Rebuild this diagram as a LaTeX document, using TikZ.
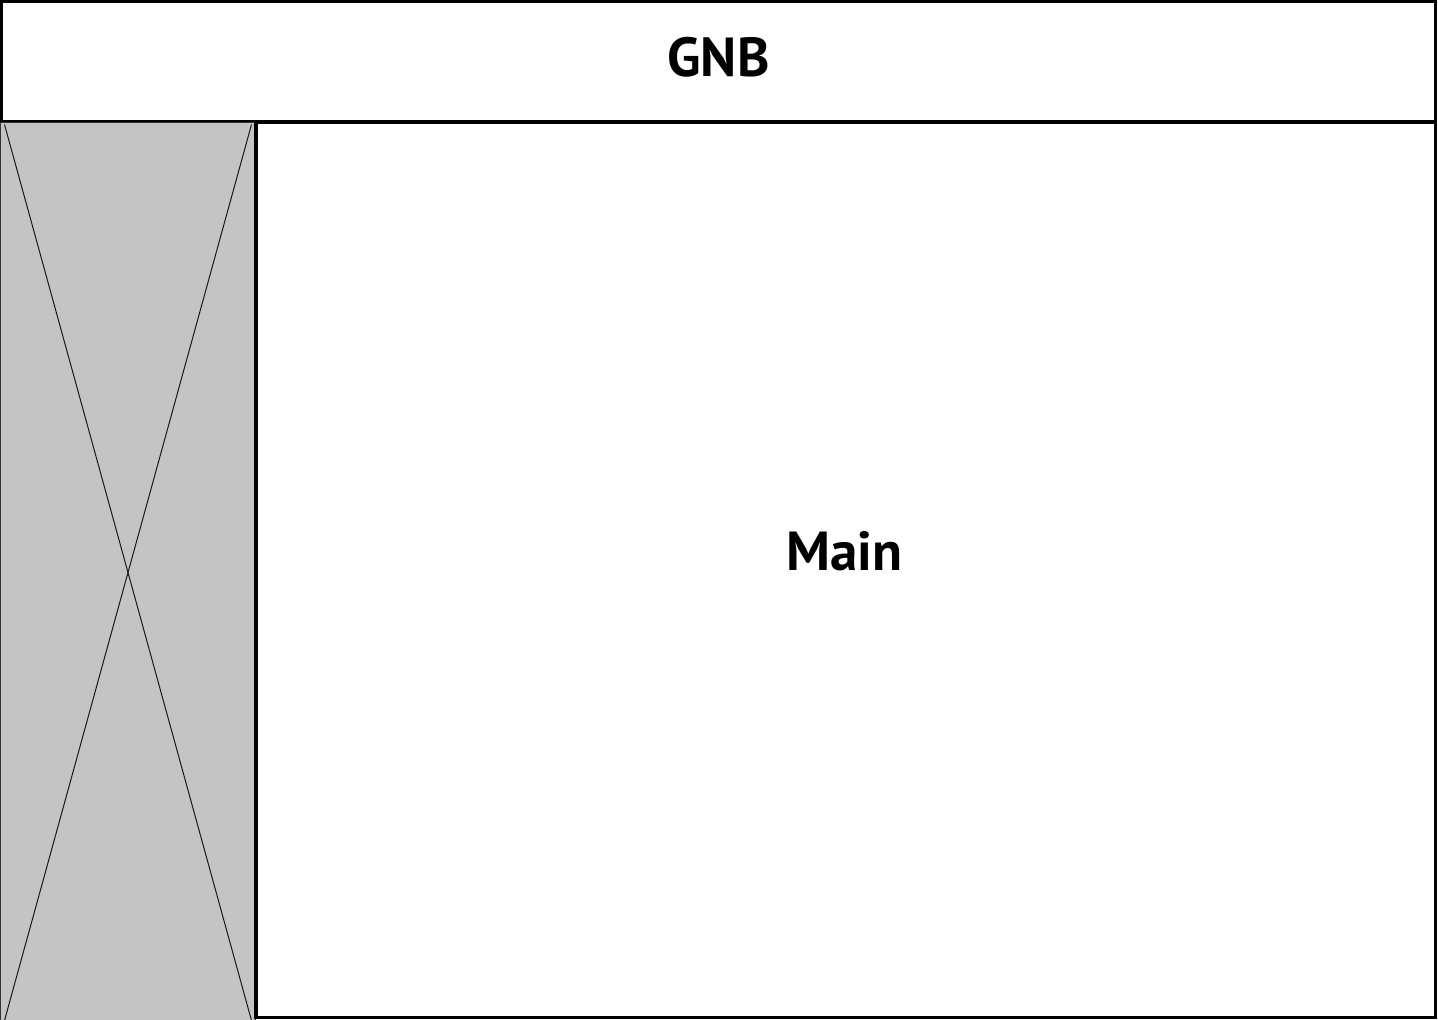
\documentclass[tikz,border=0pt]{standalone}
\usepackage{fontspec}
\setmainfont{PT Sans}
\usepackage{xcolor}
\usetikzlibrary{positioning, calc}
\definecolor{holdergray}{HTML}{C4C4C4}

\begin{document}
\begin{tikzpicture}[
  x=1pt, y=-1pt,
  panel/.style={rectangle, draw, line width=3.4pt, inner sep=0pt, fill=white},
  holder/.style={rectangle, draw=black!80, line width=1pt, inner sep=0pt, fill=holdergray},
  crossline/.style={draw=black!90, line width=1pt},
  ttl/.style={font=\fontsize{55}{60}\selectfont\bfseries, inner sep=0pt}
]
\useasboundingbox (0,0) rectangle (1438,1020);

%% --- Top bar ---
\node[panel, minimum width=1434pt, minimum height=120pt] (gnb) at (718.5,61.5) {};
\node[ttl] (gnblbl) at (718.5,57.5) {GNB};

%% --- Side image placeholder ---
\node[holder, minimum width=255pt, minimum height=898pt] (side) at (127.5,571) {};
\draw[crossline] ([xshift=5pt,yshift=-3pt]side.north west) -- ([xshift=-4pt]side.south east);
\draw[crossline] ([xshift=-4pt,yshift=-3pt]side.north east) -- ([xshift=5pt]side.south west);

%% --- Main area ---
\node[panel, minimum width=1179.5pt, minimum height=895.5pt] (main) at (845.75,569.75) {};
\node[ttl] (mainlbl) at (844.5,551) {Main};

\end{tikzpicture}
\end{document}
